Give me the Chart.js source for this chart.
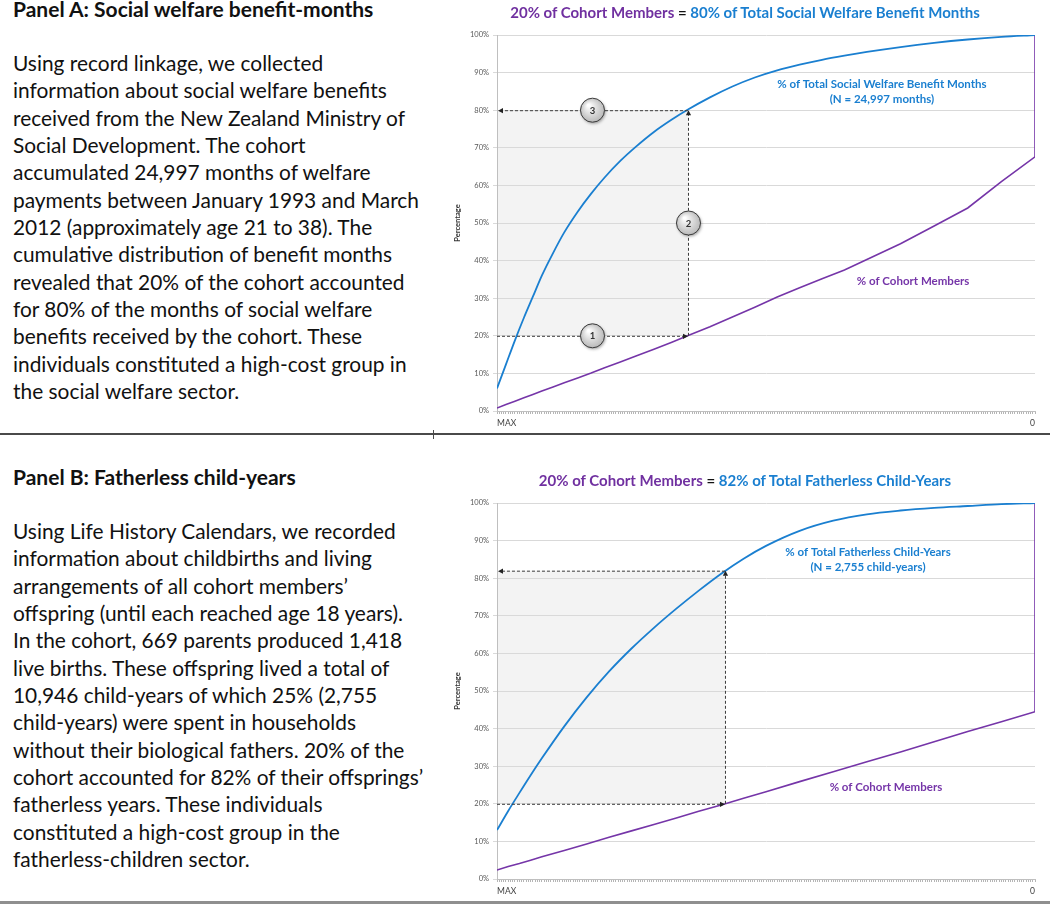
<!DOCTYPE html>
<html>
<head>
<meta charset="utf-8">
<script src="https://cdn.jsdelivr.net/npm/chart.js@4.4.1/dist/chart.umd.min.js"></script>
<style>
  body { margin: 0; background: #fff; width: 1050px; height: 904px; overflow: hidden; position: relative; font-family: Lato, "Open Sans", sans-serif; color: #111; }
  .head { position: absolute; left: 13px; font-weight: bold; font-size: 21px; line-height: 22px; white-space: nowrap; }
  .para { position: absolute; left: 13px; font-size: 20.9px; line-height: 27.33px; white-space: nowrap; }
  .title { position: absolute; left: 440px; width: 610px; text-align: center; font-weight: bold; font-size: 15px; line-height: 18px; }
  .pur { color: #7030a0; }
  .blu { color: #1a7fd0; }
  .box { position: absolute; left: 440px; width: 610px; }
  .rule { position: absolute; left: 0; width: 1050px; }
</style>
</head>
<body>

<div class="head" style="top:-2px">Panel A: Social welfare benefit-months</div>
<div class="para" style="top:49px">
Using record linkage, we collected<br>
information about social welfare benefits<br>
received from the New Zealand Ministry of<br>
Social Development. The cohort<br>
accumulated 24,997 months of welfare<br>
payments between January 1993 and March<br>
2012 (approximately age 21 to 38). The<br>
cumulative distribution of benefit months<br>
revealed that 20% of the cohort accounted<br>
for 80% of the months of social welfare<br>
benefits received by the cohort. These<br>
individuals constituted a high-cost group in<br>
the social welfare sector.
</div>

<div class="head" style="top:466px">Panel B: Fatherless child-years</div>
<div class="para" style="top:517px">
Using Life History Calendars, we recorded<br>
information about childbirths and living<br>
arrangements of all cohort members’<br>
offspring (until each reached age 18 years).<br>
In the cohort, 669 parents produced 1,418<br>
live births. These offspring lived a total of<br>
10,946 child-years of which 25% (2,755<br>
child-years) were spent in households<br>
without their biological fathers. 20% of the<br>
cohort accounted for 82% of their offsprings’<br>
fatherless years. These individuals<br>
constituted a high-cost group in the<br>
fatherless-children sector.
</div>

<div class="box" style="top:0;height:434px"><canvas id="welfare"></canvas></div>
<div class="box" style="top:434px;height:468px"><canvas id="father"></canvas></div>

<div class="title" style="top:3px"><span class="pur">20% of Cohort Members</span> = <span class="blu">80% of Total Social Welfare Benefit Months</span></div>
<div class="title" style="top:471px"><span class="pur">20% of Cohort Members</span> = <span class="blu">82% of Total Fatherless Child-Years</span></div>

<div class="rule" style="top:433px;height:2px;background:#4a4a4a"></div>
<div style="position:absolute;left:433px;top:430px;width:1px;height:9px;background:#4a4a4a"></div>
<div class="rule" style="top:901px;height:3px;background:#8f8f8f"></div>

<script>
// position along the sorted cohort: 0 = MAX ... 240 = 0
const xSteps = 240;
const yTicks = [0, 10, 20, 30, 40, 50, 60, 70, 80, 90, 100];

// Panel A: social welfare benefit-months
const welfareX      = [0, 4, 8, 12, 16, 20, 25, 30, 36, 42, 48, 55, 62, 70, 78, 85, 95, 105, 115, 125, 135, 145, 155, 165, 180, 195, 210, 225, 240, 240];
const welfareMonths = [6, 12.4, 18.8, 24.8, 30.4, 36, 42, 47.5, 53, 57.8, 62.1, 66.5, 70.3, 74.2, 77.5, 80.1, 83.4, 86.3, 88.7, 90.6, 92.1, 93.4, 94.5, 95.5, 96.8, 97.9, 98.8, 99.5, 100, 100];
const welfareCohort = [0.8, 1.7, 2.6, 3.5, 4.4, 5.3, 6.4, 7.5, 8.8, 10.1, 11.5, 13, 14.6, 16.4, 18.3, 20, 22.4, 25, 27.6, 30.3, 32.8, 35.2, 37.5, 40.3, 44.5, 49.2, 54, 61, 67.6, 100];
const welfareCut    = [85.2, 20, 80];   // x where cohort hits 20%, cohort %, months %

// Panel B: fatherless child-years
const fatherX      = [0, 5, 10, 15, 20, 30, 40, 50, 60, 70, 80, 90, 100, 110, 120, 135, 150, 165, 180, 195, 210, 225, 240, 240];
const fatherYears  = [13, 18.1, 22.9, 27.6, 32.1, 40.6, 48.3, 55.2, 61.3, 66.8, 71.9, 76.7, 81.2, 85.2, 88.6, 92.6, 95.3, 97, 98, 98.7, 99.2, 99.7, 100, 100];
const fatherCohort = [2.4, 3.3, 4.1, 5, 5.9, 7.6, 9.3, 11.1, 12.8, 14.5, 16.2, 18, 19.7, 21.5, 23.2, 25.9, 28.5, 31.2, 33.8, 36.5, 39.2, 41.8, 44.5, 100];
const fatherCut    = [101.7, 20, 82];

const BLUE = '#1a7fd0';
const PURPLE = '#7535a8';

function arrow(ctx, x, y, dir) {
  const s = 5, w = 2.6;
  ctx.beginPath();
  if (dir === 'right') { ctx.moveTo(x, y); ctx.lineTo(x - s, y - w); ctx.lineTo(x - s, y + w); }
  if (dir === 'left')  { ctx.moveTo(x, y); ctx.lineTo(x + s, y - w); ctx.lineTo(x + s, y + w); }
  if (dir === 'up')    { ctx.moveTo(x, y); ctx.lineTo(x - w, y + s); ctx.lineTo(x + w, y + s); }
  ctx.closePath();
  ctx.fill();
}

function guides(cut, showCircles, notes) {
  return {
    id: 'guides',
    beforeDraw(chart) {
      const { ctx, scales: { x, y } } = chart;
      const x0 = x.getPixelForValue(0), xc = x.getPixelForValue(cut[0]);
      const yl = y.getPixelForValue(cut[1]), yh = y.getPixelForValue(cut[2]);
      ctx.save();
      ctx.fillStyle = '#f3f3f3';
      ctx.fillRect(x0, yh, xc - x0, yl - yh);
      ctx.restore();
    },
    afterDatasetsDraw(chart) {
      const { ctx, scales: { x, y } } = chart;
      const x0 = x.getPixelForValue(0), xc = x.getPixelForValue(cut[0]);
      const yl = y.getPixelForValue(cut[1]), yh = y.getPixelForValue(cut[2]);
      ctx.save();
      ctx.strokeStyle = '#3c3c3c';
      ctx.fillStyle = '#222';
      ctx.lineWidth = 1;
      ctx.setLineDash([3, 2]);
      ctx.beginPath();
      ctx.moveTo(x0, yl + 0.5); ctx.lineTo(xc - 4, yl + 0.5);
      ctx.moveTo(xc + 0.5, yl); ctx.lineTo(xc + 0.5, yh + 4);
      ctx.moveTo(xc, yh + 0.5); ctx.lineTo(x0 + 4, yh + 0.5);
      ctx.stroke();
      ctx.setLineDash([]);
      arrow(ctx, xc, yl + 0.5, 'right');
      arrow(ctx, xc + 0.5, yh, 'up');
      arrow(ctx, x0 + 1, yh + 0.5, 'left');

      if (showCircles) {
        const mid = y.getPixelForValue((cut[1] + cut[2]) / 2);
        const xm = x.getPixelForValue(cut[0] / 2);
        [[xm, yl, '1'], [xc + 0.5, mid, '2'], [xm, yh, '3']].forEach(([cx, cy, n]) => {
          ctx.save();
          ctx.shadowColor = 'rgba(0,0,0,0.35)';
          ctx.shadowBlur = 3;
          ctx.shadowOffsetX = 1;
          ctx.shadowOffsetY = 1.5;
          const g = ctx.createRadialGradient(cx - 4, cy - 5, 1, cx, cy, 13);
          g.addColorStop(0, '#ffffff');
          g.addColorStop(1, '#b5b5b5');
          ctx.beginPath();
          ctx.arc(cx, cy, 12, 0, Math.PI * 2);
          ctx.fillStyle = g;
          ctx.fill();
          ctx.restore();
          ctx.strokeStyle = '#3a3a3a';
          ctx.lineWidth = 1;
          ctx.beginPath();
          ctx.arc(cx, cy, 12, 0, Math.PI * 2);
          ctx.stroke();
          ctx.fillStyle = '#333';
          ctx.font = 'bold 9.5px Lato';
          ctx.textAlign = 'center';
          ctx.textBaseline = 'middle';
          ctx.fillText(n, cx, cy + 0.5);
        });
      }

      ctx.font = 'bold 11.5px Lato';
      ctx.textAlign = 'center';
      ctx.textBaseline = 'middle';
      notes.forEach(nt => {
        ctx.fillStyle = nt.color;
        const px = x.getPixelForValue(nt.at[0]);
        const py = y.getPixelForValue(nt.at[1]);
        nt.lines.forEach((t, i) => ctx.fillText(t, px, py + i * 15));
      });
      ctx.restore();
    }
  };
}

function makeChart(id, xs, blue, purple, cut, showCircles, notes, padTop) {
  // drop repeated x for the smooth curve, keep it for the purple step up
  const bluePts = xs.map((v, i) => ({ x: v, y: blue[i] }))
    .filter((p, i, a) => i === 0 || p.x !== a[i - 1].x);
  new Chart(document.getElementById(id), {
    type: 'line',
    data: {
      datasets: [
        {
          label: 'blue',
          data: bluePts,
          borderColor: BLUE,
          borderWidth: 1.8,
          pointRadius: 0,
          cubicInterpolationMode: 'monotone'
        },
        {
          label: 'purple',
          data: xs.map((v, i) => ({ x: v, y: purple[i] })),
          borderColor: PURPLE,
          borderWidth: 1.6,
          pointRadius: 0,
          tension: 0
        }
      ]
    },
    options: {
      responsive: true,
      maintainAspectRatio: false,
      animation: false,
      events: [],
      layout: { padding: { top: padTop, right: 15, bottom: 0, left: 0 } },
      plugins: { legend: { display: false }, tooltip: { enabled: false } },
      scales: {
        x: {
          type: 'linear',
          min: 0,
          max: xSteps,
          afterFit: s => { s.height = 23; },
          border: { color: '#bfbfbf' },
          grid: { drawOnChartArea: false, tickLength: 3, color: '#b5b5b5' },
          ticks: {
            stepSize: 1,
            autoSkip: false,
            maxRotation: 0,
            align: 'inner',
            padding: 4,
            color: '#404040',
            font: { size: 8.5, family: 'Lato' },
            callback: v => v === 0 ? 'MAX' : (v === xSteps ? '0' : '')
          }
        },
        y: {
          min: 0,
          max: 100,
          afterBuildTicks: s => { s.ticks = yTicks.map(v => ({ value: v })); },
          afterFit: s => { s.width = 57; },
          border: { color: '#bfbfbf' },
          grid: { color: '#d9d9d9', tickLength: 4 },
          ticks: {
            padding: 4,
            color: '#595959',
            font: { size: 7.5, family: 'Lato' },
            callback: v => v + '%'
          },
          title: {
            display: true,
            text: 'Percentage',
            color: '#333',
            font: { size: 7.5, weight: 'bold', family: 'Lato' },
            padding: { top: 13, bottom: 0 }
          }
        }
      }
    },
    plugins: [guides(cut, showCircles, notes)]
  });
}

makeChart('welfare', welfareX, welfareMonths, welfareCohort, welfareCut, true, [
  { color: BLUE, at: [171.7, 87], lines: ['% of Total Social Welfare Benefit Months', '(N = 24,997 months)'] },
  { color: PURPLE, at: [185.6, 34.6], lines: ['% of Cohort Members'] }
], 35);

makeChart('father', fatherX, fatherYears, fatherCohort, fatherCut, false, [
  { color: BLUE, at: [165.5, 87], lines: ['% of Total Fatherless Child-Years', '(N = 2,755 child-years)'] },
  { color: PURPLE, at: [173.5, 24.5], lines: ['% of Cohort Members'] }
], 69);
</script>
</body>
</html>
